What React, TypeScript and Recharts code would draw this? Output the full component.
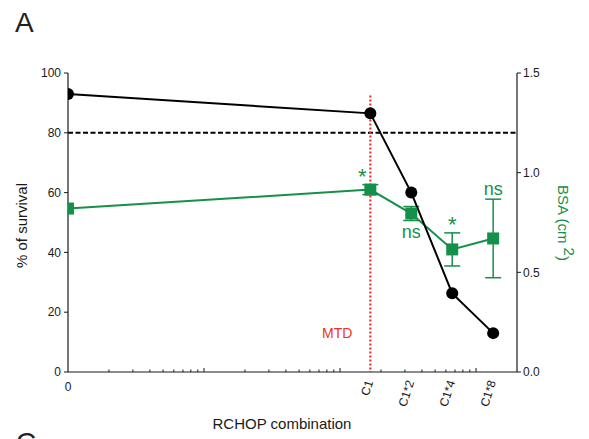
import React from "react";
import {
  ComposedChart,
  Line,
  XAxis,
  YAxis,
  ReferenceLine,
  ErrorBar,
  LabelList,
} from "recharts";

// doses are placed on a log axis; "0" sits on the first decade
const doseLabels = ["0", "C1", "C1*2", "C1*4", "C1*8"];
const doseValues = [1, 167, 334, 668, 1336];
const survival = [93, 86.5, 60, 26.3, 13];
const bsa = [0.82, 0.915, 0.795, 0.615, 0.67];
const bsaErr = [0, 0.025, 0.035, 0.083, 0.197];
const signif = ["", "*", "ns", "*", "ns"];
const signifSide = ["", "above", "below", "above", "above"];

const minorTicks = [2, 3, 4, 5, 6, 7, 8, 9, 20, 30, 40, 50, 60, 70, 80, 90, 200, 300, 400, 500, 600, 700, 800, 900];
const majorTicks = [10, 100, 1000];
const leftTicks = [0, 20, 40, 60, 80, 100];
const rightTicks = [0, 0.5, 1, 1.5];
const survivalLimit = 80;
const mtdDose = 167;

const W = 589;
const H = 439;
const PLOT_TOP = 73;
const PLOT_BOTTOM = 372;
const PLOT_LEFT = 68;
const PLOT_RIGHT = 517;
const PX_PER_BSA = (PLOT_BOTTOM - PLOT_TOP) / 1.5;

const FONT = "'Liberation Sans', Arial, Helvetica, sans-serif";
const GREEN = "#15904a";
const RED = "#ee3124";
const INK = "#1a1a1a";

const data = doseValues.map((d, i) => ({
  dose: d,
  label: doseLabels[i],
  survival: survival[i],
  bsa: bsa[i],
  bsaErr: bsaErr[i],
  sig: signif[i],
}));

const xTicks = [...doseValues, ...minorTicks, ...majorTicks].sort((a, b) => a - b);

const XTick = (props: any) => {
  const { x, y, payload } = props;
  const v = payload.value;
  const i = doseValues.indexOf(v);
  if (i === 0) {
    return (
      <text x={x} y={y + 19} textAnchor="middle" fontSize={12} fill={INK} fontFamily={FONT}>
        {doseLabels[i]}
      </text>
    );
  }
  if (i > 0) {
    const ax = x + 3;
    const ay = y + 10;
    return (
      <text
        x={ax}
        y={ay}
        textAnchor="end"
        fontSize={12}
        fill={INK}
        fontFamily={FONT}
        transform={`rotate(-72 ${ax} ${ay})`}
      >
        {doseLabels[i]}
      </text>
    );
  }
  const len = majorTicks.includes(v) ? 4 : 2.5;
  return <line x1={x} x2={x} y1={y} y2={y - len} stroke={INK} strokeWidth={1} />;
};

const blackDot = (p: any) => (
  <circle key={`b-${p.index}`} cx={p.cx} cy={p.cy} r={6} fill="#000" />
);

const greenDot = (p: any) => (
  <rect key={`g-${p.index}`} x={p.cx - 6} y={p.cy - 6} width={12} height={12} fill={GREEN} />
);

const renderSig = (p: any) => {
  const { x, y, index } = p;
  const txt = signif[index];
  if (!txt) return null;
  const errPx = bsaErr[index] * PX_PER_BSA;
  const star = txt === "*";
  // keep the star clear of the MTD line
  const dx = doseValues[index] === mtdDose ? -8 : 0;
  const ty =
    signifSide[index] === "below"
      ? y + errPx + 17
      : y - errPx - (star ? 1 : 4);
  return (
    <text
      key={`s-${index}`}
      x={x + dx}
      y={ty}
      textAnchor="middle"
      fontSize={star ? 22 : 18}
      fill={GREEN}
      fontFamily={FONT}
    >
      {txt}
    </text>
  );
};

const mtdLabel = (p: any) => {
  const vb = p.viewBox || {};
  const bottom = Math.max(vb.y, vb.y + vb.height);
  return (
    <text x={vb.x - 18} y={bottom - 34} textAnchor="end" fontSize={14} fill={RED} fontFamily={FONT}>
      MTD
    </text>
  );
};

export default function App() {
  const tickStyle = { fontSize: 12, fill: INK, fontFamily: FONT };
  return (
    <div style={{ position: "absolute", left: 0, top: 0, width: W, height: H, background: "#fff" }}>
      <ComposedChart
        width={W}
        height={H}
        data={data}
        margin={{ top: PLOT_TOP, right: W - PLOT_RIGHT - 40, bottom: H - PLOT_BOTTOM - 30, left: PLOT_LEFT - 40 }}
      >
        <XAxis
          dataKey="dose"
          type="number"
          scale="log"
          domain={[1, 2000]}
          allowDataOverflow
          ticks={xTicks}
          interval={0}
          tick={<XTick />}
          tickLine={false}
          tickSize={0}
          tickMargin={0}
          height={30}
          axisLine={{ stroke: INK, strokeWidth: 1.2 }}
        />
        <YAxis
          yAxisId="left"
          orientation="left"
          domain={[0, 100]}
          ticks={leftTicks}
          width={40}
          tickSize={4}
          tickMargin={3}
          tick={tickStyle}
          tickLine={{ stroke: INK }}
          axisLine={{ stroke: INK, strokeWidth: 1.2 }}
        />
        <YAxis
          yAxisId="right"
          orientation="right"
          domain={[0, 1.5]}
          ticks={rightTicks}
          width={40}
          tickSize={4}
          tickMargin={2}
          tick={tickStyle}
          tickFormatter={(v: number) => v.toFixed(1)}
          tickLine={{ stroke: INK }}
          axisLine={{ stroke: INK, strokeWidth: 1.2 }}
        />
        <ReferenceLine
          yAxisId="left"
          y={survivalLimit}
          stroke="#000"
          strokeWidth={2}
          strokeDasharray="5 2.5"
        />
        <Line
          yAxisId="right"
          dataKey="bsa"
          stroke={GREEN}
          strokeWidth={2}
          dot={greenDot}
          activeDot={false}
          isAnimationActive={false}
        >
          <ErrorBar dataKey="bsaErr" direction="y" width={8} stroke={GREEN} strokeWidth={1.5} />
          <LabelList dataKey="sig" content={renderSig} />
        </Line>
        <Line
          yAxisId="left"
          dataKey="survival"
          stroke="#000"
          strokeWidth={2}
          dot={blackDot}
          activeDot={false}
          isAnimationActive={false}
        />
        <ReferenceLine
          yAxisId="left"
          segment={[
            { x: mtdDose, y: 92.5 },
            { x: mtdDose, y: 0 },
          ]}
          stroke={RED}
          strokeWidth={2.2}
          strokeDasharray="2 2"
          label={mtdLabel}
        />
      </ComposedChart>
      <svg
        width={W}
        height={H}
        style={{ position: "absolute", left: 0, top: 0, pointerEvents: "none" }}
        fontFamily={FONT}
      >
        <text x={15} y={32} fontSize={28} fill="#222">A</text>
        <text x={16} y={452} fontSize={28} fill="#222">C</text>
        <text x={282} y={429} fontSize={15} fill={INK} textAnchor="middle">RCHOP combination</text>
        <text transform="translate(27 225.5) rotate(-90)" fontSize={15} fill={INK} textAnchor="middle">
          % of survival
        </text>
        <text transform="translate(558 223) rotate(90)" fontSize={15} fill={GREEN} textAnchor="middle">
          <tspan>BSA (cm </tspan>
          <tspan dy={-6}>2</tspan>
          <tspan dy={6}>)</tspan>
        </text>
      </svg>
    </div>
  );
}
